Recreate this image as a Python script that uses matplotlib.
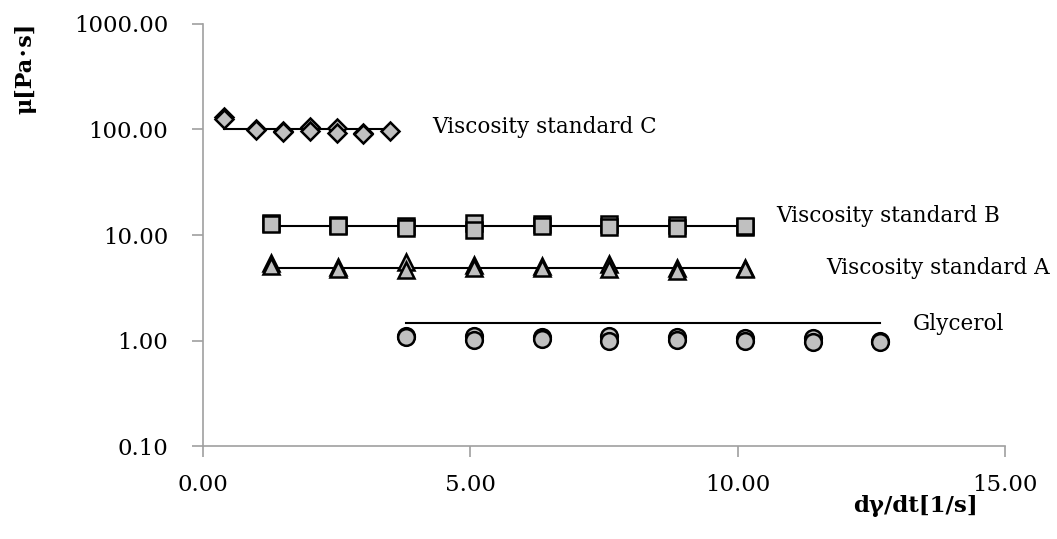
import matplotlib
matplotlib.use('Agg')
import matplotlib.pyplot as plt
from matplotlib.ticker import FixedLocator, FormatStrFormatter, NullLocator

plt.rcParams['font.family'] = ['DejaVu Serif', 'Noto Sans CJK JP']

# shear rate steps
xC = [0.4, 0.4, 1.0, 1.0, 1.5, 1.5, 2.0, 2.0, 2.5, 2.5, 3.0, 3.0, 3.5]
yC = [131, 125, 100, 98, 97, 95, 106, 96, 103, 93, 92, 90, 96]

xAB = [1.267, 2.533, 3.8, 5.067, 6.333, 7.6, 8.867, 10.133]
yB1 = [12.9, 12.5, 12.3, 13.0, 12.8, 12.6, 12.4, 12.0]
yB2 = [12.6, 12.1, 11.6, 11.2, 12.3, 12.0, 11.7, 12.2]
yA1 = [5.4, 5.0, 5.5, 5.2, 5.1, 5.3, 4.9, 4.9]
yA2 = [5.1, 4.8, 4.7, 4.9, 4.9, 4.8, 4.6, 4.8]

xG = [3.8, 5.067, 6.333, 7.6, 8.867, 10.133, 11.4, 12.667]
yG1 = [1.1, 1.1, 1.07, 1.1, 1.07, 1.05, 1.05, 0.98]
yG2 = [1.07, 1.02, 1.03, 0.99, 1.02, 1.0, 0.97, 0.97]

# fitted (mean) lines: [x start, x end], level
fitC = ([0.4, 3.5], 100)
fitB = ([1.267, 10.133], 12.3)
fitA = ([1.267, 10.133], 4.85)
fitG = ([3.8, 12.667], 1.48)

labels = ['Viscosity standard C', 'Viscosity standard B',
          'Viscosity standard A', 'Glycerol']
label_pos = [(4.29, 105), (10.71, 15.1), (11.65, 4.83), (13.28, 1.44)]

fig = plt.figure(figsize=(10.57, 5.39), dpi=100)
ax = fig.add_axes([0.192, 0.1725, 0.759, 0.783])

fill = '#c0c0c0'
mk = dict(linestyle='none', markerfacecolor=fill, markeredgecolor='black',
          markeredgewidth=1.8, zorder=3)

for fit in [fitC, fitB, fitA, fitG]:
    ax.plot(fit[0], [fit[1], fit[1]], color='black', lw=1.5, zorder=2)

ax.plot(xC, yC, marker='D', markersize=9, **mk)
ax.plot(xAB, yB1, marker='s', markersize=11.5, **mk)
ax.plot(xAB, yB2, marker='s', markersize=11.5, **mk)
ax.plot(xAB, yA1, marker='^', markersize=11.5, **mk)
ax.plot(xAB, yA2, marker='^', markersize=11.5, **mk)
ax.plot(xG, yG1, marker='o', markersize=12, **mk)
ax.plot(xG, yG2, marker='o', markersize=12, **mk)

for txt, (tx, ty) in zip(labels, label_pos):
    ax.text(tx, ty, txt, fontsize=15.5, va='center', ha='left')

ax.set_yscale('log')
ax.set_ylim(0.1, 1000)
ax.set_xlim(0, 15)
ax.yaxis.set_major_locator(FixedLocator([0.1, 1, 10, 100, 1000]))
ax.yaxis.set_minor_locator(NullLocator())
ax.yaxis.set_major_formatter(FormatStrFormatter('%.2f'))
ax.xaxis.set_major_locator(FixedLocator([0, 5, 10, 15]))
ax.xaxis.set_major_formatter(FormatStrFormatter('%.2f'))

for s in ['top', 'right']:
    ax.spines[s].set_visible(False)
for s in ['left', 'bottom']:
    ax.spines[s].set_color('#a0a0a0')
    ax.spines[s].set_linewidth(1.2)
ax.tick_params(axis='both', direction='out', length=8, width=1.2,
               color='#a0a0a0', labelsize=16.5)
ax.tick_params(axis='y', pad=17)
ax.tick_params(axis='x', pad=12)

fig.text(0.024, 1 - 68 / 539, 'μ[Pa･s]', rotation=90, fontsize=16,
         fontweight='bold', ha='center', va='center')
fig.text(915 / 1057, 1 - 506 / 539, 'dγ/dt[1/s]', fontsize=16.5,
         fontweight='bold', ha='center', va='center')

fig.savefig('out.png', dpi=100)
